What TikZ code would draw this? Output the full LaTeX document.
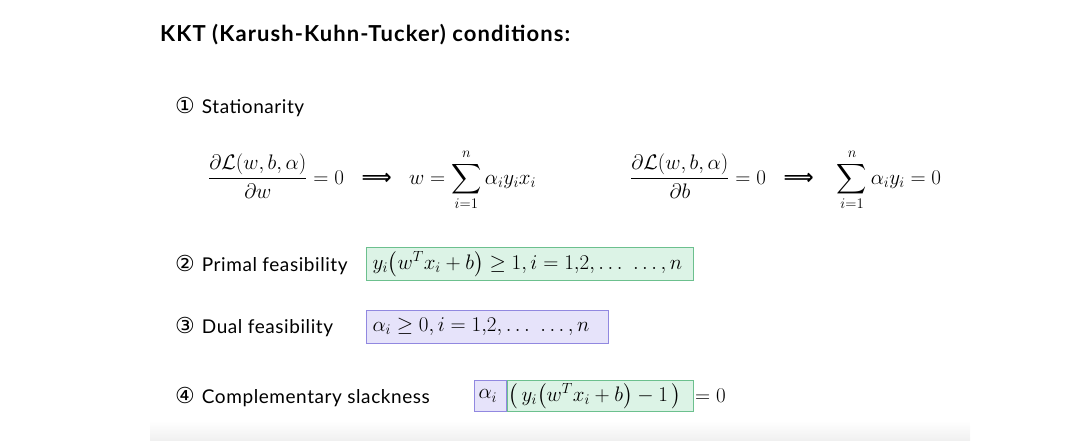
\RequirePackage{fix-cm}
\documentclass[tikz,border=0pt]{standalone}
\usepackage{amsmath, amssymb}
\usepackage{fontspec}
\setmainfont{Lato}
\newfontfamily\titlefont[LetterSpace=5]{Lato}
\newfontfamily\labelfont[LetterSpace=3]{Lato}
\newfontfamily\circfont{DejaVu Sans}
\newcommand{\circnum}[1]{{\circfont\fontsize{22}{24}\selectfont #1}\hspace{7pt}}
\newcommand{\thickimp}{\;\;\mathrel{\text{\circfont\bfseries ⟹}}\;\;}
\usetikzlibrary{positioning}
\definecolor{boxgreen}{HTML}{DCF3E6}
\definecolor{edgegreen}{HTML}{6CC08E}
\definecolor{boxpurple}{HTML}{E6E3FA}
\definecolor{edgepurple}{HTML}{9188E0}

\begin{document}
\begin{tikzpicture}[x=1pt, y=-1pt,
    condlabel/.style={anchor=base west, inner sep=0pt, font=\labelfont\fontsize{19}{22}\selectfont},
    eqn/.style={anchor=base west, inner sep=0pt, font=\fontsize{21}{25}\selectfont},
    greenbox/.style={draw=edgegreen, fill=boxgreen, line width=1pt, anchor=west, inner xsep=6pt, inner ysep=0pt, minimum height=33pt, align=left, font=\fontsize{21}{25}\selectfont},
    purplebox/.style={greenbox, draw=edgepurple, fill=boxpurple}]
    \useasboundingbox (0,0) rectangle (1076,441);
    % Draw the faint band at the foot
    \shade[top color=white, bottom color=black!6] (150,421) rectangle (970,441);

    % Title
    \node[anchor=base west, inner sep=0pt, font=\titlefont\fontsize{22}{26}\selectfont\bfseries] (title) at (160,42) {KKT (Karush-Kuhn-Tucker) conditions:};

    % Labels of the four conditions
    \node[condlabel] (stat) at (175,114) {\circnum{①}Stationarity};
    \node[condlabel] (primal) at (175,271) {\circnum{②}Primal feasibility};
    \node[condlabel] (dual) at (175,333) {\circnum{③}Dual feasibility};
    \node[condlabel] (slack) at (175,403) {\circnum{④}Complementary slackness};

    % Stationarity equations
    \node[eqn] (dw) at (208,184) {$\displaystyle \frac{\partial\mathcal{L}(w,b,\alpha)}{\partial w}=0 \thickimp w=\sum_{i=1}^{n}\alpha_i y_i x_i$};
    \node[eqn] (db) at (630,184) {$\displaystyle \frac{\partial\mathcal{L}(w,b,\alpha)}{\partial b}=0 \thickimp\; \sum_{i=1}^{n}\alpha_i y_i=0$};

    % Feasibility boxes
    \node[greenbox, text width=315pt] (pbox) at (366,264) {$y_i\bigl(w^T x_i+b\bigr)\geq 1, i=1{,}2, \ldots\ \ldots, n$};
    \node[purplebox, text width=230pt] (dbox) at (366,327) {$\alpha_i\geq 0, i=1{,}2, \ldots\ \ldots, n$};

    % Complementary slackness
    \node[purplebox, inner xsep=4pt, text width=24pt, minimum height=31pt] (abox) at (474,396) {$\alpha_i$};
    \node[greenbox, inner xsep=1pt, text width=184pt, minimum height=31pt, right=0pt of abox] (cbox) {$\bigl(\,y_i\bigl(w^T x_i+b\bigr)-1\,\bigr)$};
    \node[eqn, anchor=west, right=1pt of cbox] (zero) {$=0$};
\end{tikzpicture}
\end{document}
